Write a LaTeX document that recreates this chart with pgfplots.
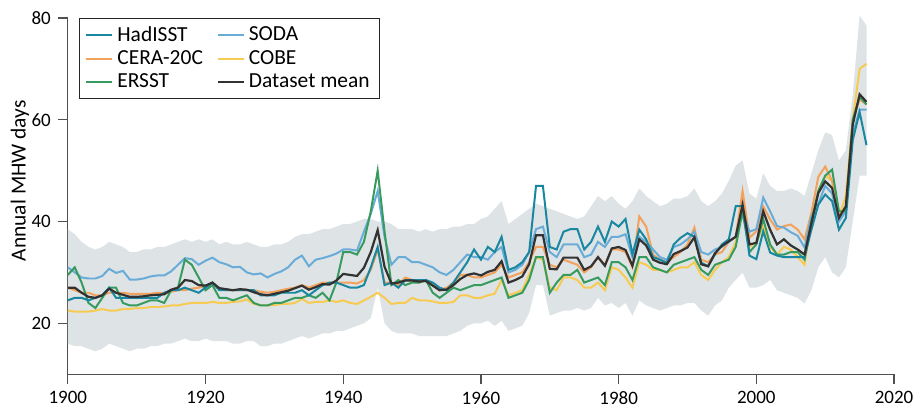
\documentclass[border=0pt]{standalone}
\usepackage{fontspec}
\setmainfont{Carlito}
\usepackage{pgfplots}
\pgfplotsset{compat=1.18}
\usepackage{pgfplotstable}
\usepgfplotslibrary{fillbetween}

\definecolor{hadc}{RGB}{25,135,160}
\definecolor{sodac}{RGB}{105,172,215}
\definecolor{cerac}{RGB}{243,162,92}
\definecolor{cobec}{RGB}{247,202,82}
\definecolor{ersc}{RGB}{55,155,95}
\definecolor{meanc}{RGB}{50,50,50}
\definecolor{bandc}{RGB}{222,227,230}
\definecolor{axisc}{RGB}{80,80,80}

\pgfplotstableread{
year H S O C E M U L
1900 24.5 31.0 27.0 22.5 29.5 27.0 38.5 16.0
1901 25.0 30.0 26.5 22.3 31.0 27.0 37.5 15.5
1902 25.0 29.0 26.0 22.3 28.0 26.0 36.0 15.5
1903 24.5 28.8 26.0 22.3 24.0 25.2 35.0 15.0
1904 25.0 28.8 25.5 22.5 23.0 25.0 34.5 14.5
1905 25.5 29.3 25.5 22.8 25.0 25.5 35.0 15.0
1906 27.0 30.7 26.0 22.5 27.0 26.8 36.0 16.0
1907 25.0 29.9 26.0 22.5 27.0 26.0 35.5 15.5
1908 25.0 30.3 26.0 22.8 24.0 25.6 35.0 15.0
1909 25.0 28.6 25.8 22.8 23.5 25.2 34.0 14.5
1910 25.0 28.6 25.8 23.0 23.5 25.2 34.0 15.0
1911 25.0 28.8 25.8 23.0 24.0 25.3 34.5 15.0
1912 25.0 29.2 25.8 23.2 24.5 25.5 34.5 15.5
1913 25.0 29.4 26.0 23.2 24.5 25.6 35.0 15.5
1914 26.0 29.4 26.0 23.3 24.0 25.7 35.0 16.0
1915 26.5 30.2 26.2 23.5 26.5 26.6 35.5 16.0
1916 26.5 31.5 26.5 23.5 27.0 27.0 36.0 16.5
1917 27.0 32.8 26.5 23.8 32.5 28.5 36.5 17.0
1918 26.5 32.6 26.8 24.0 31.5 28.3 36.0 16.5
1919 26.0 31.5 27.0 24.0 29.0 27.5 36.5 16.5
1920 27.0 32.3 27.2 24.0 26.5 27.4 36.0 17.0
1921 28.0 32.9 27.5 24.2 27.5 28.0 36.5 16.5
1922 26.5 32.0 26.8 24.0 25.0 26.9 35.5 16.5
1923 26.5 31.6 26.5 24.0 25.0 26.7 36.0 16.5
1924 26.5 31.0 26.5 24.2 24.5 26.5 35.5 16.0
1925 26.5 31.1 26.5 24.3 25.0 26.7 35.5 16.0
1926 26.5 30.0 26.5 24.7 25.5 26.6 36.0 16.5
1927 26.5 29.6 26.5 23.8 24.0 26.1 35.5 16.5
1928 25.5 29.8 26.2 23.6 23.5 25.7 35.0 15.5
1929 25.5 29.0 26.0 23.5 23.5 25.5 35.0 15.5
1930 25.5 29.7 26.2 23.6 24.0 25.8 35.5 16.0
1931 26.0 30.2 26.5 23.8 24.0 26.1 35.5 16.0
1932 26.0 31.0 26.8 23.8 24.5 26.4 36.0 16.5
1933 26.0 32.5 27.0 24.0 25.0 26.9 37.0 17.0
1934 26.5 33.3 27.5 24.8 25.0 27.4 37.5 17.5
1935 25.5 31.2 27.0 24.0 25.5 26.6 37.5 17.0
1936 26.5 32.5 27.5 24.2 25.0 27.1 38.0 17.5
1937 27.5 32.8 28.0 24.2 26.0 27.7 38.5 18.0
1938 28.0 33.2 28.0 24.5 24.5 27.6 38.5 18.0
1939 28.0 33.7 28.0 24.2 28.0 28.4 39.0 18.5
1940 27.5 34.5 28.0 24.5 34.0 29.7 39.5 18.5
1941 27.0 34.5 28.0 24.0 34.0 29.5 39.5 19.0
1942 27.0 34.3 27.8 23.8 33.5 29.3 40.0 19.5
1943 27.5 38.0 28.5 24.5 36.0 30.9 40.5 20.0
1944 31.0 41.5 30.5 25.2 42.0 34.0 40.5 21.0
1945 35.0 46.0 34.5 26.0 50.0 38.3 40.0 27.0
1946 27.5 37.0 28.0 25.0 38.0 31.1 40.0 20.0
1947 28.0 31.5 28.0 23.8 27.5 27.8 39.5 18.5
1948 27.0 33.0 27.5 24.0 28.5 28.0 38.5 18.0
1949 28.5 33.0 29.0 24.0 27.5 28.4 38.5 18.0
1950 28.5 32.0 28.5 25.0 28.0 28.4 38.5 18.0
1951 28.5 32.0 28.0 24.5 28.0 28.2 38.0 17.5
1952 28.5 31.5 28.5 24.5 28.5 28.3 38.5 17.5
1953 28.0 31.0 27.5 24.3 26.0 27.4 38.0 17.5
1954 27.0 30.0 26.5 24.0 25.0 26.5 38.5 17.5
1955 26.5 29.5 27.0 24.0 26.0 26.6 38.5 17.5
1956 28.0 30.5 28.0 24.2 27.0 27.5 39.0 18.0
1957 30.0 32.0 29.5 25.5 26.5 28.7 39.0 18.5
1958 32.0 33.5 29.5 25.5 27.0 29.5 39.5 19.5
1959 34.5 33.0 29.0 25.0 27.5 29.8 39.5 20.0
1960 32.5 33.0 29.0 25.0 27.5 29.4 40.5 20.0
1961 35.0 32.5 29.5 25.5 28.0 30.1 41.0 20.5
1962 34.0 34.0 30.0 25.8 28.5 30.5 42.5 19.5
1963 37.0 35.0 31.5 28.5 29.0 32.2 44.0 20.5
1964 30.5 30.0 29.0 25.5 25.0 28.0 39.5 18.5
1965 31.0 30.5 29.5 26.0 25.5 28.5 40.5 19.0
1966 32.0 31.5 30.0 26.5 26.0 29.2 41.5 19.5
1967 34.0 34.0 32.0 29.5 28.5 31.6 42.5 22.0
1968 47.0 38.5 35.0 33.0 33.0 37.3 43.5 27.5
1969 47.0 39.0 35.0 32.5 33.0 37.3 43.0 27.5
1970 35.0 34.0 31.5 27.0 26.0 30.7 42.5 21.5
1971 34.5 33.0 31.0 26.5 28.0 30.6 42.0 22.0
1972 38.0 35.5 32.5 29.0 29.5 32.9 41.5 22.5
1973 38.5 35.5 32.0 29.0 29.5 32.9 41.0 22.5
1974 38.5 35.5 31.5 28.5 30.5 32.9 40.5 23.0
1975 34.5 33.0 30.0 27.0 28.0 30.5 41.0 22.5
1976 36.0 33.5 31.0 27.0 28.5 31.2 43.0 23.0
1977 39.0 36.0 33.0 28.0 29.0 33.0 45.0 25.0
1978 36.0 35.0 31.5 26.5 27.5 31.3 44.0 23.5
1979 40.0 37.0 34.5 31.0 32.0 34.7 45.0 24.0
1980 39.0 37.0 34.5 30.5 32.0 35.0 43.5 23.0
1981 40.5 37.5 34.0 29.0 31.0 34.4 42.5 24.0
1982 33.6 33.0 31.0 27.0 28.5 31.3 44.0 21.5
1983 38.4 37.0 41.0 32.0 33.0 36.5 46.5 24.5
1984 36.5 36.0 39.0 31.5 33.0 35.3 45.0 23.5
1985 33.0 34.5 33.5 30.5 31.0 32.5 44.0 23.0
1986 32.5 33.0 32.5 30.5 30.5 31.9 43.0 22.5
1987 31.9 32.5 32.0 30.0 30.0 31.6 43.5 23.0
1988 35.5 35.0 33.0 30.5 31.5 33.6 44.5 23.5
1989 36.8 35.5 34.0 31.0 32.0 34.2 44.5 23.5
1990 37.7 36.5 35.5 31.0 32.5 34.9 45.0 24.0
1991 37.0 38.0 38.8 32.0 33.0 36.9 46.5 24.0
1992 31.9 34.0 32.5 29.5 30.5 31.6 44.0 22.5
1993 31.2 33.5 32.0 28.5 29.5 31.2 43.0 21.5
1994 33.6 34.5 33.5 30.5 31.5 33.8 44.0 23.5
1995 35.5 35.0 34.0 32.0 32.0 35.2 45.5 24.5
1996 36.5 36.0 36.0 33.0 32.5 36.1 48.0 27.0
1997 43.0 37.0 37.0 36.0 35.0 37.0 51.0 28.5
1998 43.0 42.0 46.0 42.0 42.0 43.3 52.0 30.0
1999 33.3 38.0 36.8 35.0 34.0 35.5 45.5 27.0
2000 32.6 38.5 38.1 36.0 35.5 35.8 44.5 27.0
2001 38.1 44.7 43.0 39.0 40.5 42.0 49.5 27.5
2002 33.9 42.0 40.4 35.0 35.5 38.4 47.0 28.5
2003 33.3 39.1 38.4 33.5 33.5 35.5 46.0 26.5
2004 33.0 38.8 39.1 35.0 33.5 36.5 46.0 26.0
2005 33.0 37.9 39.4 34.5 34.0 35.3 46.5 25.5
2006 33.0 37.2 38.4 33.0 34.0 34.5 46.0 25.0
2007 33.0 34.9 36.5 31.5 32.5 33.5 45.0 23.9
2008 38.4 41.0 41.7 40.0 40.0 39.7 49.5 26.5
2009 43.3 43.5 48.8 46.0 46.0 45.6 54.0 31.0
2010 45.3 47.0 50.8 49.0 49.0 47.9 57.5 33.0
2011 44.0 45.5 48.0 48.0 50.2 46.6 57.0 30.0
2012 38.4 40.0 41.0 41.0 42.0 40.7 52.0 29.0
2013 40.7 42.0 43.0 45.0 42.0 43.0 54.0 31.0
2014 56.0 57.0 60.0 60.0 60.0 59.0 65.0 40.0
2015 61.5 62.0 64.0 70.0 64.5 65.0 80.5 49.0
2016 55.0 62.0 63.0 71.0 63.0 63.5 78.5 49.0
}\data

\begin{document}
\begin{tikzpicture}
\begin{axis}[
  scale only axis,
  width=414pt, height=178.5pt,
  xmin=1900, xmax=2020, ymin=10, ymax=80,
  axis x line=bottom, axis y line=left,
  axis line style={-, draw=axisc, line width=0.6pt},
  xtick={1900,1920,...,2020}, ytick={20,40,60,80},
  tick align=outside, major tick length=5pt,
  tick style={draw=axisc, line width=0.6pt},
  /pgf/number format/assume math mode=true,
  xticklabel style={/pgf/number format/set thousands separator={}, font=\fontsize{9.5}{11}\selectfont},
  yticklabel style={font=\fontsize{9.5}{11}\selectfont},
  ylabel={Annual MHW days},
  ylabel style={at={(axis description cs:-0.058,0.543)}, anchor=center, font=\fontsize{10.75}{13}\selectfont},
  clip=false,
  legend columns=2,
  legend cell align=left,
  legend style={at={(axis description cs:0.0133,1)}, anchor=north west,
    draw=black!85, line width=0.6pt, font=\fontsize{10.75}{12}\selectfont,
    inner xsep=3pt, inner ysep=2pt, row sep=-1pt,
    /tikz/every even column/.append style={column sep=5pt}},
  legend image code/.code={\draw[#1, line width=1pt] (0pt,0pt) -- (13pt,0pt);},
]
\addplot[name path=U, draw=none, forget plot] table[x=year, y=U] {\data};
\addplot[name path=L, draw=none, forget plot] table[x=year, y=L] {\data};
\addplot[fill=bandc, draw=none, forget plot] fill between[of=U and L];

\addplot[cobec, line width=1pt, forget plot] table[x=year, y=C] {\data};
\addplot[cerac, line width=1pt, forget plot] table[x=year, y=O] {\data};
\addplot[sodac, line width=1pt, forget plot] table[x=year, y=S] {\data};
\addplot[ersc, line width=1pt, forget plot] table[x=year, y=E] {\data};
\addplot[hadc, line width=1pt, forget plot] table[x=year, y=H] {\data};
\addplot[meanc, line width=1.1pt, forget plot] table[x=year, y=M] {\data};

\addlegendimage{hadc}\addlegendentry{HadISST}
\addlegendimage{sodac}\addlegendentry{SODA}
\addlegendimage{cerac}\addlegendentry{CERA-20C}
\addlegendimage{cobec}\addlegendentry{COBE}
\addlegendimage{ersc}\addlegendentry{ERSST}
\addlegendimage{meanc}\addlegendentry{Dataset mean}
\end{axis}
\pgfresetboundingbox
\useasboundingbox (-34pt,-20pt) rectangle (423.5pt,187.5pt);
\end{tikzpicture}
\end{document}
